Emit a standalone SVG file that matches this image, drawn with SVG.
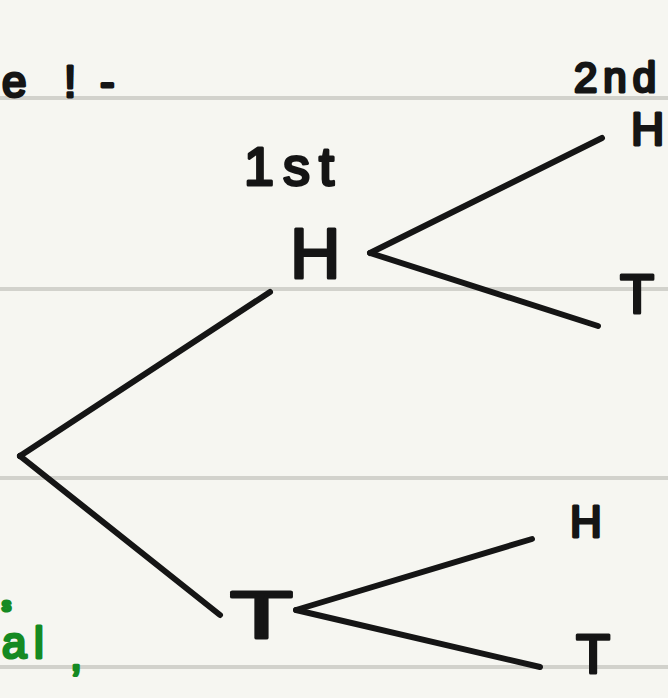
<svg xmlns="http://www.w3.org/2000/svg" width="668" height="698" viewBox="0 0 668 698">
<style>
.rule{stroke:#d2d2cc;stroke-width:4}
.edge{stroke:#151515;stroke-width:6;stroke-linecap:round;fill:none}
.t{font-family:"Liberation Sans",Arial,sans-serif;fill:#151515;stroke:#151515;stroke-width:3;stroke-linejoin:round}
.g{font-family:"Liberation Sans",Arial,sans-serif;fill:#158a22;stroke:#158a22;stroke-width:3;stroke-linejoin:round}
</style>
<rect width="668" height="698" fill="#f6f6f1"/>
<g id="rules">
<line class="rule" x1="0" y1="98" x2="668" y2="98"/>
<line class="rule" x1="0" y1="289" x2="668" y2="289"/>
<line class="rule" x1="0" y1="478" x2="668" y2="478"/>
<line class="rule" x1="0" y1="667" x2="668" y2="667"/>
</g>
<g id="notes">
<text class="t" font-size="44"><tspan x="2" y="97">e</tspan><tspan x="64" y="97">!</tspan><tspan x="100" y="97">-</tspan></text>
<text class="t" x="244" y="185" font-size="54" letter-spacing="9">1st</text>
<text class="t" x="574" y="92" font-size="42" letter-spacing="6">2nd</text>
<text class="g" font-size="18" x="2" y="611">s</text>
<text class="g" font-size="44"><tspan x="2" y="658">a</tspan><tspan x="34" y="658">l</tspan><tspan x="70" y="670">,</tspan></text>
</g>
<g id="edges">
<path class="edge" d="M20 456 L270 292"/>
<path class="edge" d="M20 456 L220 615"/>
<path class="edge" d="M370 253 L602 138"/>
<path class="edge" d="M370 253 L598 326"/>
<path class="edge" d="M296 610 L532 539"/>
<path class="edge" d="M296 610 L540 667"/>
</g>
<g id="n-root"><circle cx="20" cy="456" r="3" fill="#151515"/></g>
<g id="n-H1"><text class="t" x="290" y="278" font-size="70">H</text></g>
<g id="n-T1"><text class="t" x="230" y="638" font-size="66" textLength="63" lengthAdjust="spacingAndGlyphs">T</text></g>
<g id="n-HH"><text class="t" x="631" y="145" font-size="46">H</text></g>
<g id="n-HT"><text class="t" x="620" y="313" font-size="56">T</text></g>
<g id="n-TH"><text class="t" x="570" y="537" font-size="44">H</text></g>
<g id="n-TT"><text class="t" x="576" y="673" font-size="56">T</text></g>
</svg>
